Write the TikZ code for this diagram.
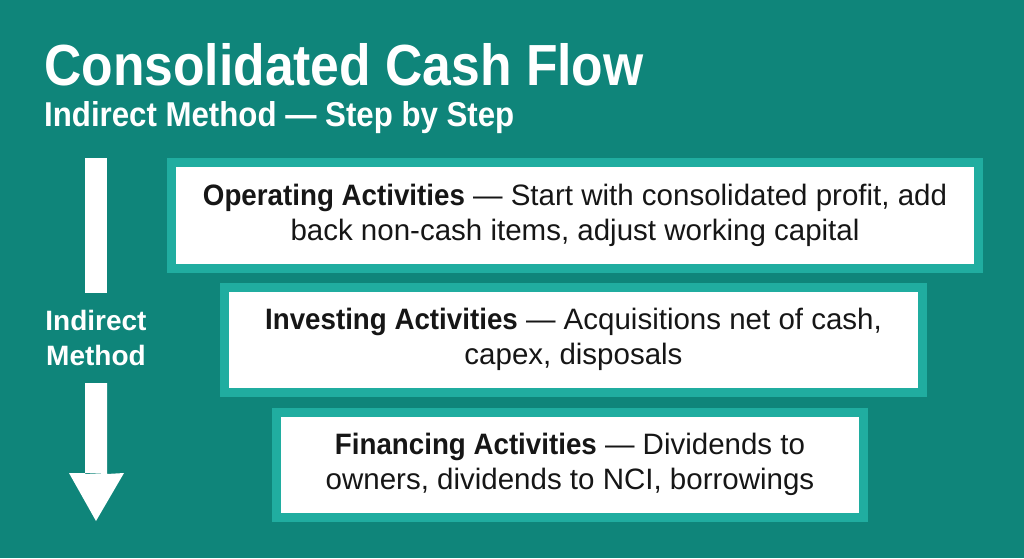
\documentclass[tikz,border=0pt]{standalone}
\usepackage{fontspec}
\setmainfont{Liberation Sans}
\newfontfamily\ttlfont[FakeStretch=0.89]{Liberation Sans}
\newfontfamily\subfont[FakeStretch=0.905]{Liberation Sans}
\newfontfamily\hdfont[FakeStretch=0.94]{Liberation Sans}
\newcommand{\hd}[1]{{\hdfont\bfseries #1}}
\definecolor{bg}{HTML}{0F857A}
\definecolor{rim}{HTML}{20ADA0}
\definecolor{ink}{HTML}{161616}
\tikzset{
  stepbox/.style={draw=rim, line width=9pt, fill=white, inner sep=0pt, align=center,
     text=ink, font=\fontsize{29.5}{35.5}\selectfont},
  arrowfill/.style={fill=white, draw=none}
}
\begin{document}
\begin{tikzpicture}[x=1pt,y=-1pt]
\fill[bg] (0,0) rectangle (1024,558);
\useasboundingbox (0,0) rectangle (1024,558);
\node[anchor=base west, text=white, font=\fontsize{58}{58}\ttlfont\bfseries, inner sep=0pt] (title) at (44,85) {Consolidated Cash Flow};
\node[anchor=base west, text=white, font=\fontsize{34.5}{34.5}\subfont\bfseries, inner sep=0pt] (sub) at (44,126) {Indirect Method — Step by Step};
\node[stepbox, minimum width=807pt, minimum height=106pt] (op) at (575,215.5)
  {\hd{Operating Activities} — Start with consolidated profit, add\\back non-cash items, adjust working capital};
\node[stepbox, minimum width=698pt, minimum height=105pt] (inv) at (573.5,339.5)
  {\hd{Investing Activities} — Acquisitions net of cash,\\capex, disposals};
\node[stepbox, minimum width=587pt, minimum height=105pt] (fin) at (570,464.5)
  {\hd{Financing Activities} — Dividends to\\owners, dividends to NCI, borrowings};
\fill[arrowfill] (85,158) rectangle (107,293);
\fill[arrowfill] (85,383) rectangle (107,474) -- (124,473) -- (96,521) -- (69,473) -- (85,473);
\node[text=white, align=center, font=\fontsize{28}{35}\selectfont\bfseries, inner sep=0pt] (lbl) at (96,338) {Indirect\\Method};
\end{tikzpicture}
\end{document}
